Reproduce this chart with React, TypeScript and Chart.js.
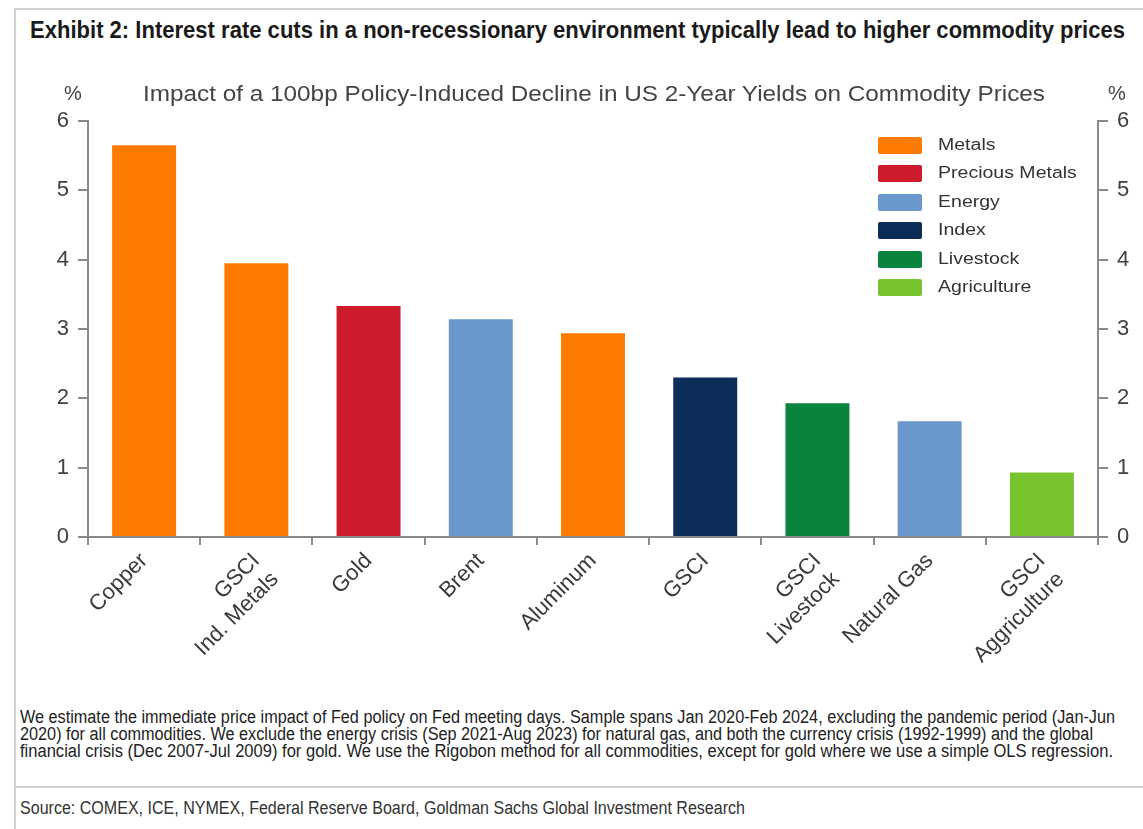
import React, { useEffect, useLayoutEffect, useRef } from "react";
import { Chart, registerables } from "chart.js";

Chart.register(...registerables);

const categories: string[][] = [
  ["Copper"],
  ["GSCI", "Ind. Metals"],
  ["Gold"],
  ["Brent"],
  ["Aluminum"],
  ["GSCI"],
  ["GSCI", "Livestock"],
  ["Natural Gas"],
  ["GSCI", "Aggriculture"],
];
const values = [5.65, 3.95, 3.33, 3.14, 2.94, 2.3, 1.93, 1.67, 0.93];
const groups = [
  "Metals",
  "Metals",
  "Precious Metals",
  "Energy",
  "Metals",
  "Index",
  "Livestock",
  "Energy",
  "Agriculture",
];
const legendLabels = ["Metals", "Precious Metals", "Energy", "Index", "Livestock", "Agriculture"];
const legendColors = ["#FF7A00", "#CE1B2C", "#6A98CB", "#0D2D59", "#08843F", "#78C42E"];
const yMin = 0;
const yMax = 6;
const yStep = 1;

const TITLE = "Exhibit 2: Interest rate cuts in a non-recessionary environment typically lead to higher commodity prices";
const SUBTITLE = "Impact of a 100bp Policy-Induced Decline in US 2-Year Yields on Commodity Prices";
const NOTE_LINES = [
  "We estimate the immediate price impact of Fed policy on Fed meeting days. Sample spans Jan 2020-Feb 2024, excluding the pandemic period (Jan-Jun",
  "2020) for all commodities. We exclude the energy crisis (Sep 2021-Aug 2023) for natural gas, and both the currency crisis (1992-1999) and the global",
  "financial crisis (Dec 2007-Jul 2009) for gold. We use the Rigobon method for all commodities, except for gold where we use a simple OLS regression.",
];
const SOURCE = "Source: COMEX, ICE, NYMEX, Federal Reserve Board, Goldman Sachs Global Investment Research";

const AXIS_COLOR = "#8a8a8a";
const TEXT_COLOR = "#3a3a3a";
const FONT = "'Liberation Sans', Arial, sans-serif";

function FitText(props: {
  text: string;
  left: number;
  top: number;
  width?: number;
  scale?: number;
  style?: React.CSSProperties;
}) {
  const ref = useRef<HTMLDivElement | null>(null);
  useLayoutEffect(() => {
    const el = ref.current;
    if (!el) return;
    el.style.transform = "none";
    const w = el.getBoundingClientRect().width;
    let s = props.scale ?? 1;
    if (props.width && w > 0) s = props.width / w;
    el.style.transform = `scaleX(${s})`;
  }, [props.text, props.width, props.scale]);
  return (
    <div
      ref={ref}
      style={{
        position: "absolute",
        left: props.left,
        top: props.top,
        whiteSpace: "nowrap",
        transformOrigin: "left top",
        fontFamily: FONT,
        ...props.style,
      }}
    >
      {props.text}
    </div>
  );
}

export default function App() {
  const canvasRef = useRef<HTMLCanvasElement | null>(null);

  useEffect(() => {
    if (!canvasRef.current) return;
    const colorFor = (g: string) => legendColors[legendLabels.indexOf(g)];
    const yScaleCommon = {
      type: "linear" as const,
      min: yMin,
      max: yMax,
      ticks: {
        stepSize: yStep,
        color: "#404040",
        font: { family: FONT, size: 22 },
        padding: 9,
      },
      grid: {
        drawOnChartArea: false,
        drawTicks: true,
        tickLength: 10,
        color: AXIS_COLOR,
        lineWidth: 2,
      },
      border: { display: true, color: AXIS_COLOR, width: 2 },
    };
    const chart = new Chart(canvasRef.current, {
      type: "bar",
      data: {
        labels: categories,
        datasets: [
          {
            data: values,
            backgroundColor: groups.map(colorFor),
            borderWidth: 0,
            barPercentage: 0.57,
            categoryPercentage: 1,
          },
        ],
      },
      options: {
        animation: false,
        responsive: true,
        maintainAspectRatio: false,
        layout: { padding: { top: 121, left: 0, right: 0, bottom: 0 } },
        plugins: {
          legend: { display: false },
          tooltip: { enabled: false },
          title: { display: false },
        },
        scales: {
          x: {
            offset: true,
            grid: {
              offset: true,
              drawOnChartArea: false,
              drawTicks: true,
              tickLength: 8,
              color: AXIS_COLOR,
              lineWidth: 2,
            },
            border: { display: true, color: AXIS_COLOR, width: 2 },
            ticks: {
              minRotation: 45,
              maxRotation: 45,
              autoSkip: false,
              color: TEXT_COLOR,
              padding: 3,
              font: { family: FONT, size: 22 },
            },
            afterFit: (scale: any) => {
              scale.height = 163;
            },
          },
          y: {
            ...yScaleCommon,
            position: "left",
            afterFit: (scale: any) => {
              scale.width = 88;
            },
          },
          y2: {
            ...yScaleCommon,
            position: "right",
            afterFit: (scale: any) => {
              scale.width = 45;
            },
          },
        },
      } as any,
    });
    return () => chart.destroy();
  }, []);

  return (
    <div
      style={{
        position: "fixed",
        left: 0,
        top: 0,
        width: 1143,
        height: 829,
        background: "#fff",
        overflow: "hidden",
        fontFamily: FONT,
      }}
    >
      {/* frame lines */}
      <div style={{ position: "absolute", left: 14, top: 8, width: 1129, height: 2, background: "#d0d0d0" }} />
      <div style={{ position: "absolute", left: 14, top: 8, width: 2, height: 821, background: "#d0d0d0" }} />
      <div style={{ position: "absolute", left: 16, top: 786, width: 1127, height: 2, background: "#cfcfcf" }} />

      <FitText
        text={TITLE}
        left={30}
        top={16}
        width={1095}
        style={{ fontWeight: "bold", fontSize: 24, color: "#1a1a1a" }}
      />

      <div style={{ position: "absolute", left: 0, top: 0, width: 1143, height: 700 }}>
        <canvas ref={canvasRef} />
      </div>

      <FitText text={SUBTITLE} left={143} top={81} width={902} style={{ fontSize: 22, color: "#444" }} />
      <div style={{ position: "absolute", left: 64, top: 82, fontSize: 20, color: "#444" }}>%</div>
      <div style={{ position: "absolute", left: 1108, top: 82, fontSize: 20, color: "#444" }}>%</div>

      {/* legend */}
      {legendLabels.map((lab, i) => (
        <React.Fragment key={lab}>
          <div
            style={{
              position: "absolute",
              left: 878,
              top: 137 + i * 28.4,
              width: 44,
              height: 17,
              background: legendColors[i],
              borderRadius: 2,
            }}
          />
          <FitText text={lab} left={938} top={136 + i * 28.4} scale={1.22} style={{ fontSize: 16, color: "#333" }} />
        </React.Fragment>
      ))}

      {/* notes */}
      {NOTE_LINES.map((line, i) => (
        <FitText
          key={i}
          text={line}
          left={20}
          top={707 + i * 17}
          width={[1095, 1073, 1093][i]}
          style={{ fontSize: 18, lineHeight: "20px", color: "#222" }}
        />
      ))}
      <FitText
        text={SOURCE}
        left={20}
        top={798}
        width={725}
        style={{ fontSize: 18, lineHeight: "20px", color: "#333" }}
      />
    </div>
  );
}
